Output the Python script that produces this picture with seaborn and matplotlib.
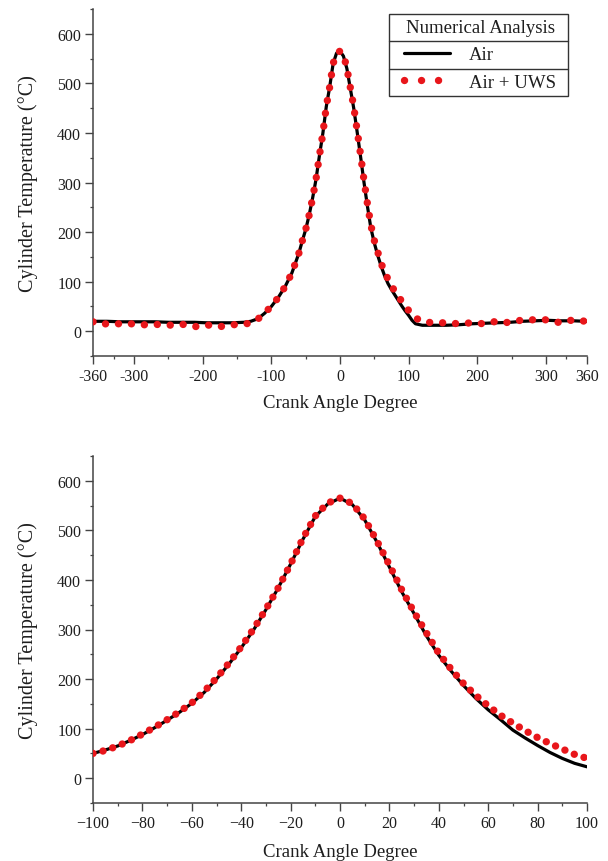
import matplotlib
matplotlib.use("Agg")
import matplotlib.pyplot as plt
from matplotlib.lines import Line2D
from matplotlib.patches import Rectangle
from matplotlib.transforms import IdentityTransform
import seaborn as sns
import pandas as pd

# ---------------- data ----------------
# Top panel: full cycle
angle_top = [-360, -350, -340, -320, -305, -285, -270, -250, -230, -212, -195, -176,
             -157, -140, -130, -120, -110, -100, -90, -80, -70, -60, -55, -50, -45,
             -40, -35, -30, -25, -20, -15, -10, -5, 0, 5, 10, 15, 20, 25, 30, 35, 40,
             45, 50, 55, 60, 65, 70, 75, 80, 85, 90, 95, 100, 105, 110, 120, 137,
             155, 173, 192, 210, 228, 248, 266, 284, 303, 321, 340, 358, 360]
air_top = [20, 20, 20, 19, 19, 19, 19, 18, 18, 18, 17, 17,
           17, 18, 20, 25, 36, 50, 68, 90, 118, 157, 182, 205, 234,
           268, 306, 354, 399, 453, 493, 540, 561, 565, 555, 530, 490, 450, 402, 352, 300, 252,
           208, 178, 153, 131, 112, 96, 84, 73, 62, 51, 41, 32, 22, 15, 12, 12,
           12, 13, 15, 16, 17, 18, 20, 21, 22, 21, 21, 20, 20]
uws_top = [19, 14, 15, 15, 15, 13, 14, 12, 14, 9, 13, 9,
           13, 14, 17, 24, 37, 50, 68, 90, 118, 157, 182, 205, 234,
           268, 306, 354, 399, 453, 493, 540, 561, 565, 558, 531, 492, 453, 405, 356, 304, 257,
           214, 183, 160, 137, 119, 105, 91, 81, 71, 60, 50, 42, 34, 27, 19, 17,
           17, 15, 17, 15, 20, 17, 23, 23, 23, 17, 23, 20, 20]

# Bottom panel: close-up around TDC
angle_bot = [-100, -95, -90, -85, -80, -75, -70, -65, -60, -55, -50, -45, -40, -35,
             -30, -25, -20, -15, -10, -5, 0, 5, 10, 15, 20, 25, 30, 35, 40, 45, 50,
             55, 60, 65, 70, 75, 80, 85, 90, 95, 100]
air_bot = [50, 57, 65, 76, 88, 102, 117, 133, 151, 173, 200, 230, 263, 299,
           340, 384, 432, 482, 528, 553, 565, 552, 521, 476, 426, 376, 332, 287, 248, 216, 187,
           161, 138, 118, 97, 81, 66, 52, 40, 30, 23]
uws_bot = [50, 56, 65, 76, 89, 103, 118, 134, 152, 175, 202, 232, 265, 301,
           341, 384, 432, 484, 529, 555, 565, 554, 523, 478, 430, 380, 335, 293, 252, 220, 191,
           167, 146, 127, 111, 96, 82, 70, 59, 48, 40]

legend_title = "Numerical Analysis"
series_labels = ["Air", "Air + UWS"]
x_label = "Crank Angle Degree"
y_label = "Cylinder Temperature (\u00b0C)"

top_xticks = [-360, -300, -200, -100, 0, 100, 200, 300, 360]
top_xticklabels = ["-360", "-300", "-200", "-100", "0", "100", "200", "300", "360"]
top_xminor = [-330, -250, -150, -50, 50, 150, 250, 330]
bot_xticks = [-100, -80, -60, -40, -20, 0, 20, 40, 60, 80, 100]
bot_xticklabels = ["\u2212100", "\u221280", "\u221260", "\u221240", "\u221220",
                   "0", "20", "40", "60", "80", "100"]
bot_xminor = [-90, -70, -50, -30, -10, 10, 30, 50, 70, 90]
yticks = [0, 100, 200, 300, 400, 500, 600]
yminor = [-50, 50, 150, 250, 350, 450, 550, 650]

df_top = pd.DataFrame({"angle": angle_top, "air": air_top, "uws": uws_top})
df_bot = pd.DataFrame({"angle": angle_bot, "air": air_bot, "uws": uws_bot})

# ---------------- style ----------------
sns.set_style("ticks")
plt.rcParams["font.family"] = ["Liberation Serif", "DejaVu Serif"]

W, H = 608, 862
fig = plt.figure(figsize=(W / 100, H / 100), dpi=100)

def px_axes(left, top, right, bottom):
    return fig.add_axes([left / W, 1 - bottom / H, (right - left) / W, (bottom - top) / H])

ax1 = px_axes(93, 10, 587, 357)
ax2 = px_axes(93, 457, 587, 804)

RED = "#e8161b"
TXT = "#1e1e1e"
AXC = "#444444"

for ax, df, xl, gap in ((ax1, df_top, (-360, 360), 1.75), (ax2, df_bot, (-100, 100), 1.38)):
    sns.lineplot(data=df, x="angle", y="air", ax=ax, color="black", linewidth=2.3,
                 label=series_labels[0], legend=False, zorder=2)
    sns.lineplot(data=df, x="angle", y="uws", ax=ax, color=RED, linewidth=5.3,
                 linestyle=(0, (0.01, gap)), dash_capstyle="round",
                 label=series_labels[1], legend=False, zorder=3)
    ax.set_xlim(*xl)
    ax.set_ylim(-50, 650)
    ax.set_yticks(yticks)
    ax.set_yticks(yminor, minor=True)
    ax.set_xlabel(x_label, fontsize=13.5, labelpad=7, color=TXT)
    ax.set_ylabel(y_label, fontsize=14.5, labelpad=14, color=TXT)
    for s in ("top", "right"):
        ax.spines[s].set_visible(False)
    for s in ("left", "bottom"):
        ax.spines[s].set_color(AXC)
        ax.spines[s].set_linewidth(1.1)
    ax.tick_params(which="major", direction="out", length=5.5, width=1.0,
                   labelsize=11.5, colors=AXC, labelcolor=TXT, pad=3)
    ax.tick_params(which="minor", direction="out", length=2.5, width=0.9, colors=AXC)

ax1.set_xticks(top_xticks)
ax1.set_xticklabels(top_xticklabels)
ax1.set_xticks(top_xminor, minor=True)
ax2.set_xticks(bot_xticks)
ax2.set_xticklabels(bot_xticklabels)
ax2.set_xticks(bot_xminor, minor=True)
ax2.xaxis.labelpad = 9

# ---------------- legend drawn as a small table ----------------
h_air = Line2D([], [], color="black", linewidth=2.3)
h_uws = Line2D([], [], color=RED, linewidth=5.3, linestyle=(0, (0.01, 2.3)),
               dash_capstyle="round")
leg = ax1.legend([h_air, h_uws], series_labels, title=legend_title, loc="upper center",
                 bbox_to_anchor=((480 - 93) / 494, (357 - 20) / 347),
                 borderaxespad=0, borderpad=0, fontsize=13.5, title_fontsize=13.5,
                 frameon=False, handlelength=2.45, handletextpad=1.0,
                 labelspacing=0.55)
leg.set_zorder(5)
for t in leg.get_texts():
    t.set_color(TXT)
leg.get_title().set_color(TXT)

fig.canvas.draw()
r = fig.canvas.get_renderer()
bb = leg.get_window_extent(r)
ty = leg.get_title().get_window_extent(r)
texts = [t.get_window_extent(r) for t in leg.get_texts()]
cy = [(ty.y0 + ty.y1) / 2] + [(t.y0 + t.y1) / 2 for t in texts]
x0, x1 = bb.x0 - 15, bb.x1 + 12
y0, y1 = bb.y0 - 5, bb.y1 + 5
box = Rectangle((x0, y0), x1 - x0, y1 - y0, transform=IdentityTransform(),
                facecolor="white", edgecolor="#333333", linewidth=1.0,
                zorder=4, clip_on=False)
ax1.add_artist(box)
for a, b in zip(cy[:-1], cy[1:]):
    ysep = (a + b) / 2
    sep = Line2D([x0, x1], [ysep, ysep], transform=IdentityTransform(),
                 color="#333333", linewidth=1.0, zorder=4.5, clip_on=False)
    ax1.add_artist(sep)

fig.savefig("out.png", dpi=100)
